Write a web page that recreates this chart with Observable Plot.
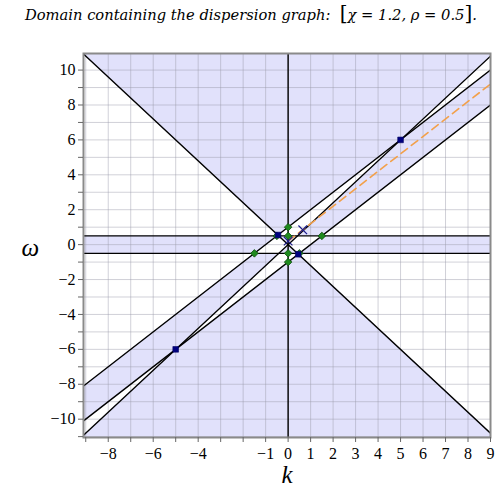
<!DOCTYPE html>
<html><head><meta charset="utf-8">
<script src="https://cdn.jsdelivr.net/npm/d3@7"></script>
<script src="https://cdn.jsdelivr.net/npm/@observablehq/plot@0.6"></script>
<style>
body{margin:0;background:#fff;}
#title{height:30px;font-family:"DejaVu Serif";font-style:italic;font-size:14.7px;padding-left:25px;line-height:26px;white-space:pre;color:#000;}
#title .br{font-size:20px;font-style:normal;}
#chart svg text{font-family:"Liberation Serif","Times New Roman",serif !important;}
</style></head><body>
<div id="title">Domain containing the dispersion graph:  <span class="br">[</span>χ = 1.2, ρ = 0.5<span class="br">]</span>.</div>
<div id="chart"></div>
<script>
const chi = 1.2, rho = 0.5;
const xDomain = [-9.1, 9.0];
const yDomain = [-11.05, 10.95];
const xTicks = [-9,-8,-7,-6,-5,-4,-3,-2,-1,0,1,2,3,4,5,6,7,8,9];
const xTickLabels = [-8,-6,-4,-1,0,1,2,3,4,5,6,7,8,9];
const yTicks = [-11,-10,-9,-8,-7,-6,-5,-4,-3,-2,-1,0,1,2,3,4,5,6,7,8,9,10];
const yTickLabels = [-10,-8,-6,-4,-2,0,2,4,6,8,10];
const lineSlopes = [1.2, -1.2, 1, 1];
const lineIntercepts = [0, 0, 1, -1];
const hLines = [0.5, -0.5];
const vLines = [0];
const orangeK = [0, 9];
const orangeW = [0.2, 9.2];
const squareK = [-0.45, 0.45, 5, -5];
const squareW = [0.55, -0.55, 6, -6];
const diamondK = [0, 0, -0.5, 1.5, -1.5, 0, 0.5, 0];
const diamondW = [1, 0.5, 0.5, 0.5, -0.5, -0.5, -0.5, -1];
const crossK = [0.65, 0];
const crossW = [0.85, 0.2];

const fmt = d => d < 0 ? "\u2212" + (-d) : String(d);
const segs = [];
lineSlopes.forEach((m, i) => {
  xDomain.forEach(k => segs.push({id: i, k, w: m * k + lineIntercepts[i]}));
});
const orange = orangeK.map((k, i) => ({k, w: orangeW[i]}));
const squares = squareK.map((k, i) => ({k, w: squareW[i]}));
const diamonds = diamondK.map((k, i) => ({k, w: diamondW[i]}));
const crosses = crossK.map((k, i) => ({k, w: crossW[i]}));

function shaded(k, w) {
  const A = Math.abs(w) > chi * Math.abs(k);
  const B = Math.abs(w - k) < 1;
  const C = Math.abs(w) < rho;
  return (A + B + C) % 2 === 1;
}

const chart = Plot.plot({
  width: 500, height: 470,
  marginTop: 23, marginBottom: 63, marginLeft: 83, marginRight: 10,
  x: {domain: xDomain},
  y: {domain: yDomain},
  color: {type: "identity"},
  style: {background: "#fff", fontSize: "16px", color: "#000"},
  marks: [
    Plot.raster({
      x1: xDomain[0], x2: xDomain[1], y1: yDomain[0], y2: yDomain[1],
      width: 407, height: 384,
      fill: (k, w) => shaded(k, w) ? "#e1e1fb" : "#ffffff"
    }),
    Plot.gridX(xTicks, {stroke: "#9a9aa8", strokeOpacity: 0.45}),
    Plot.gridY(yTicks, {stroke: "#9a9aa8", strokeOpacity: 0.45}),
    Plot.ruleY(hLines, {stroke: "#000", strokeWidth: 1.4}),
    Plot.ruleX(vLines, {stroke: "#000", strokeWidth: 1.4}),
    Plot.line(segs, {x: "k", y: "w", z: "id", stroke: "#000", strokeWidth: 1.4, clip: true}),
    Plot.line(orange, {x: "k", y: "w", stroke: "#f2a04a", strokeWidth: 1.6, strokeDasharray: "8,5", clip: true}),
    Plot.dot(diamonds, {x: "k", y: "w", symbol: "diamond2", r: 3.4, fill: "#1f8a1f", stroke: "#0b4d0b", strokeWidth: 0.8}),
    Plot.dot(squares, {x: "k", y: "w", symbol: "square", r: 3.2, fill: "#000080", stroke: "#000060", strokeWidth: 0.6}),
    Plot.dot(crosses, {x: "k", y: "w", symbol: "times", r: 4, stroke: "#1a1a8a", strokeWidth: 1.2}),
    Plot.frame({stroke: "#8a8a8a", strokeWidth: 2}),
    Plot.axisX(xTicks, {tickSize: 5, tickPadding: 5, stroke: "#666", fill: "#000", fontSize: 16, tickFormat: d => xTickLabels.includes(d) ? fmt(d) : "", label: null}),
    Plot.axisY(yTicks, {tickSize: 5, tickPadding: 3, stroke: "#666", fill: "#000", fontSize: 16, tickFormat: d => yTickLabels.includes(d) ? fmt(d) : "", label: null}),
    Plot.text(["k"], {frameAnchor: "bottom", dy: 45, text: d => d, fontSize: 25, fontStyle: "italic", fill: "#000"}),
    Plot.text(["\u03c9"], {frameAnchor: "left", dx: -62, dy: 2, text: d => d, fontSize: 25, fontStyle: "italic", fill: "#000"})
  ]
});
document.getElementById("chart").appendChild(chart);
</script>
</body></html>
